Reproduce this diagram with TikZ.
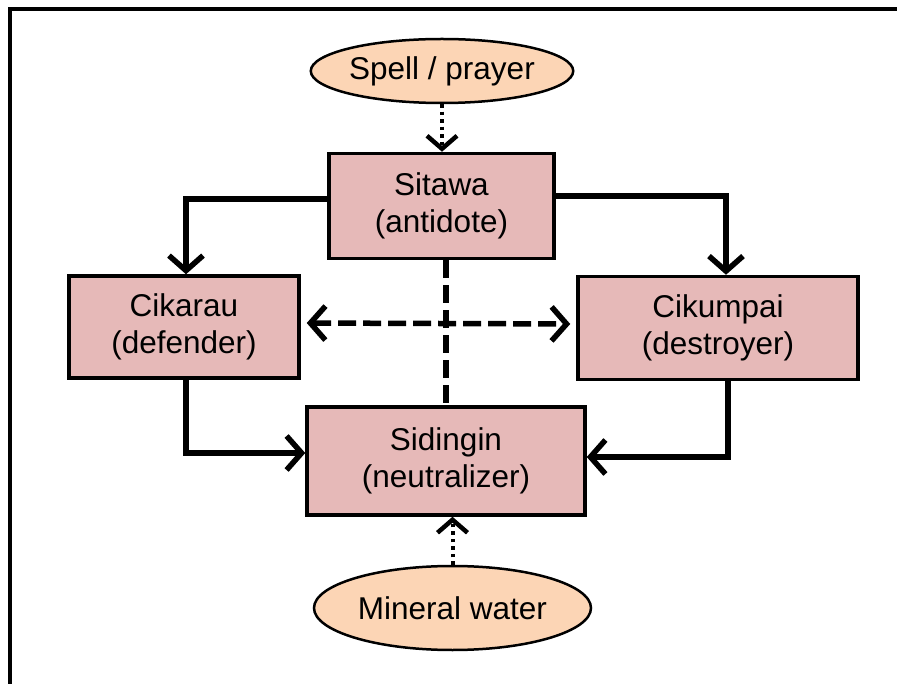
\documentclass[tikz,border=0pt]{standalone}
\usepackage{fontspec}
\setmainfont{Liberation Sans}
\usepackage{tikz}
\usetikzlibrary{positioning,shapes,arrows.meta}
\definecolor{boxpink}{RGB}{230,185,184}
\definecolor{ovalpeach}{RGB}{252,213,181}

\begin{document}
\begin{tikzpicture}[x=1pt,y=-1pt]
\tikzstyle{every node}+=[inner sep=0pt,font=\fontsize{31.5}{37}\selectfont,align=center]
\tikzstyle{box}=[draw,line width=3.5pt,fill=boxpink,rectangle]
\tikzstyle{oval}=[draw,line width=2.5pt,fill=ovalpeach,ellipse]
\tikzstyle{link}=[line width=5.5pt,-{Straight Barb[length=15pt,width=34pt]}]
\tikzstyle{dotlink}=[line width=4pt,dash pattern=on 3.5pt off 4pt,-{Straight Barb[length=13pt,width=30pt,line width=4.5pt]}]
\tikzstyle{dashlink}=[line width=5.5pt,dash pattern=on 18pt off 7pt]
\useasboundingbox (0,0) rectangle (897,684);
% frame
\draw [line width=4pt] (10,684) -- (10,9) -- (897,9);
% nodes
\node [oval,minimum width=238pt,minimum height=64pt] (spell) at (442,71) {Spell / prayer};
\node [box,minimum width=225pt,minimum height=105pt] (sitawa) at (441.5,206) {Sitawa\\(antidote)};
\node [box,minimum width=230pt,minimum height=102pt] (cikarau) at (184,327) {Cikarau\\(defender)};
\node [box,minimum width=280pt,minimum height=103pt] (cikumpai) at (718,328) {Cikumpai\\(destroyer)};
\node [box,minimum width=278pt,minimum height=108pt] (sidingin) at (446,461) {Sidingin\\(neutralizer)};
\node [oval,minimum width=277pt,minimum height=84pt] (mineral) at (452.5,608) {Mineral water};
% connectors
\draw [link] ([yshift=7pt]sitawa.west) -| ([xshift=2pt]cikarau.north);
\draw [link] ([yshift=10pt]sitawa.east) -| ([xshift=8pt]cikumpai.north);
\draw [link] ([xshift=2pt]cikarau.south) |- ([yshift=8pt]sidingin.west);
\draw [link] ([xshift=10pt]cikumpai.south) |- ([yshift=4pt]sidingin.east);
\draw [dashlink,{Straight Barb[length=15pt,width=34pt]}-{Straight Barb[length=15pt,width=34pt]},shorten <=6pt,shorten >=6pt] ([yshift=4pt]cikarau.east) -- ([yshift=4pt]cikumpai.west);
\draw [dashlink] ([xshift=4.5pt]sitawa.south) -- ([xshift=4.5pt]sitawa.south |- sidingin.north);
\draw [dotlink] (spell.south) -- (spell.south |- sitawa.north);
\draw [dotlink] (mineral.north) -- (mineral.north |- sidingin.south);
\end{tikzpicture}
\end{document}
